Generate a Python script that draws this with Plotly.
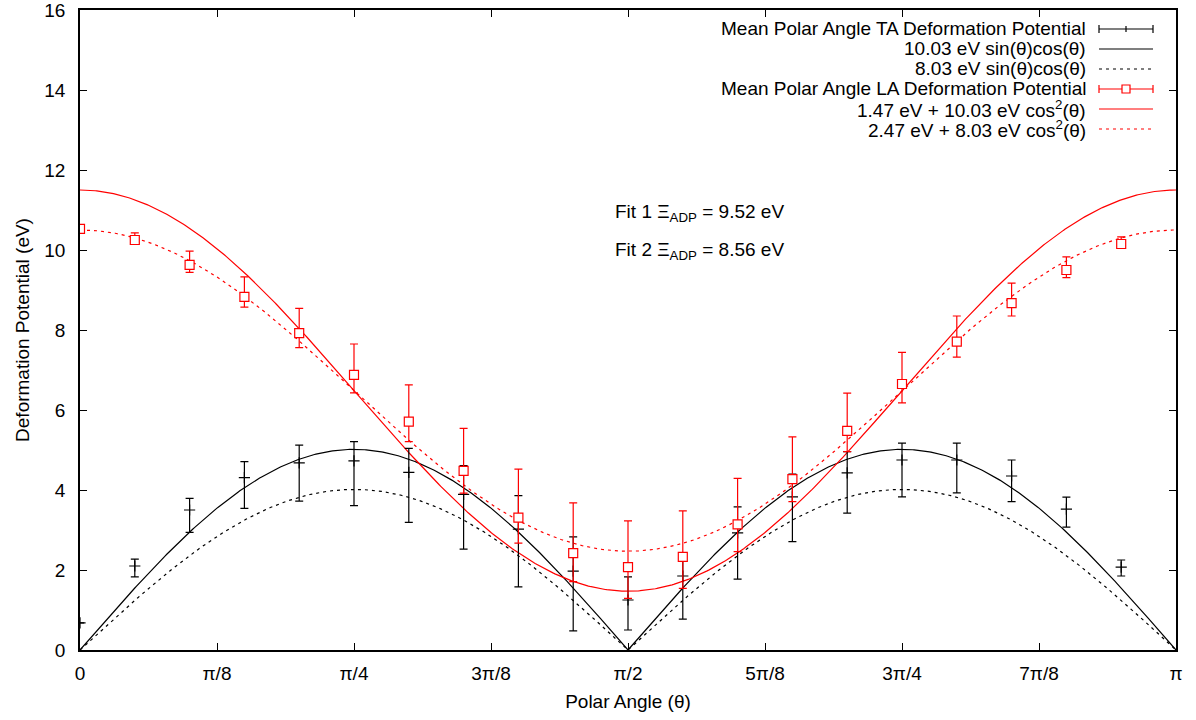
import numpy as np
import plotly.graph_objects as go

# ---------------- data ----------------
theta_deg = [0, 9, 18, 27, 36, 45, 54, 63, 72, 81, 90, 99, 108, 117, 126, 135, 144, 153, 162, 171]

ta_mean = [0.68, 2.10, 3.50, 4.31, 4.68, 4.73, 4.44, 3.89, 3.02, 1.97, 1.25, 1.85, 2.93, 3.83, 4.43, 4.75, 4.75, 4.35, 3.52, 2.07]
ta_high = [0.68, 2.27, 3.79, 4.71, 5.12, 5.21, 5.04, 4.61, 3.86, 2.83, 1.83, 2.43, 3.58, 4.40, 4.96, 5.17, 5.17, 4.75, 3.82, 2.25]
ta_low = [0.68, 1.83, 2.94, 3.54, 3.72, 3.61, 3.19, 2.52, 1.58, 0.48, 0.50, 0.77, 1.77, 2.71, 3.42, 3.83, 3.93, 3.71, 3.07, 1.85]

la_mean = [10.53, 10.25, 9.63, 8.83, 7.92, 6.88, 5.71, 4.48, 3.31, 2.42, 2.07, 2.33, 3.14, 4.27, 5.48, 6.65, 7.71, 8.67, 9.50, 10.15]
la_high = [10.53, 10.43, 9.97, 9.33, 8.54, 7.65, 6.63, 5.54, 4.52, 3.68, 3.23, 3.48, 4.29, 5.33, 6.42, 7.44, 8.35, 9.17, 9.83, 10.33]
la_low = [10.53, 10.15, 9.44, 8.57, 7.56, 6.43, 5.21, 3.92, 2.67, 1.71, 1.29, 1.54, 2.46, 3.71, 4.96, 6.18, 7.32, 8.35, 9.31, 10.07]

# fit parameters (from legend)
ta_fit1_amp = 10.03
ta_fit2_amp = 8.03
la_fit1_off, la_fit1_amp = 1.47, 10.03
la_fit2_off, la_fit2_amp = 2.47, 8.03

x_tick_vals_frac = [0, 1/8, 2/8, 3/8, 4/8, 5/8, 6/8, 7/8, 1]
x_tick_text = ["0", "π/8", "π/4", "3π/8", "π/2", "5π/8", "3π/4", "7π/8", "π"]
y_tick_vals = [0, 2, 4, 6, 8, 10, 12, 14, 16]

legend_labels = [
    "Mean Polar Angle TA Deformation Potential",
    "10.03 eV sin(θ)cos(θ)",
    "8.03 eV sin(θ)cos(θ)",
    "Mean Polar Angle LA Deformation Potential",
    "1.47 eV + 10.03 eV cos<sup>2</sup>(θ)",
    "2.47 eV + 8.03 eV cos<sup>2</sup>(θ)",
]
fit_texts = ["Fit 1 Ξ<sub>ADP</sub> = 9.52 eV", "Fit 2 Ξ<sub>ADP</sub> = 8.56 eV"]

# ---------------- figure ----------------
FONT = "Liberation Sans, Arial, Helvetica, sans-serif"
FS = 19
W, H = 1196, 720
ML, MR, MT, MB = 80, 20, 10, 70
PW, PH = W - ML - MR, H - MT - MB

th = np.radians(theta_deg)
tt = np.linspace(0, np.pi, 721)

ta_mean_a = np.array(ta_mean)
la_mean_a = np.array(la_mean)

fig = go.Figure()

# fit curves
fig.add_trace(go.Scatter(x=tt, y=ta_fit1_amp * np.abs(np.sin(tt) * np.cos(tt)), mode="lines",
                         line=dict(color="black", width=1.2), showlegend=False, hoverinfo="skip"))
fig.add_trace(go.Scatter(x=tt, y=ta_fit2_amp * np.abs(np.sin(tt) * np.cos(tt)), mode="lines",
                         line=dict(color="black", width=1.2, dash="3px,4px"), showlegend=False, hoverinfo="skip"))
fig.add_trace(go.Scatter(x=tt, y=la_fit1_off + la_fit1_amp * np.cos(tt) ** 2, mode="lines",
                         line=dict(color="red", width=1.2), showlegend=False, hoverinfo="skip"))
fig.add_trace(go.Scatter(x=tt, y=la_fit2_off + la_fit2_amp * np.cos(tt) ** 2, mode="lines",
                         line=dict(color="red", width=1.2, dash="3px,4px"), showlegend=False, hoverinfo="skip"))

# data with asymmetric error bars
fig.add_trace(go.Scatter(
    x=th, y=ta_mean, mode="markers",
    marker=dict(symbol="cross-thin", size=8, line=dict(color="black", width=1.2), color="black"),
    error_y=dict(type="data", symmetric=False,
                 array=list(np.array(ta_high) - ta_mean_a),
                 arrayminus=list(ta_mean_a - np.array(ta_low)),
                 color="black", thickness=1.2, width=4),
    showlegend=False))
fig.add_trace(go.Scatter(
    x=th, y=la_mean, mode="markers",
    marker=dict(symbol="square", size=9, color="white", line=dict(color="red", width=1.2)),
    error_y=dict(type="data", symmetric=False,
                 array=list(np.array(la_high) - la_mean_a),
                 arrayminus=list(la_mean_a - np.array(la_low)),
                 color="red", thickness=1.2, width=4),
    showlegend=False))

def px2paper(px, py):
    return (px - ML) / PW, (H - MB - py) / PH

# custom gnuplot-style legend
shapes = []
annotations = []
row_y = [29, 49, 69, 89, 109, 129]
text_right = 1088
s0, s1 = 1099, 1153
styles = [("black", "err_plus"), ("black", "solid"), ("black", "dot"),
          ("red", "err_square"), ("red", "solid"), ("red", "dot")]
for lab, yy, (col, kind) in zip(legend_labels, row_y, styles):
    ax, ay = px2paper(text_right, yy)
    annotations.append(dict(x=ax, y=ay, xref="paper", yref="paper", text=lab, showarrow=False,
                            xanchor="right", yanchor="middle", font=dict(family=FONT, size=FS, color="black")))
    x0, y0 = px2paper(s0, yy)
    x1, _ = px2paper(s1, yy)
    dash = "solid" if kind != "dot" else "3px,4px"
    shapes.append(dict(type="line", xref="paper", yref="paper", x0=x0, x1=x1, y0=y0, y1=y0,
                       line=dict(color=col, width=1.2, dash=dash)))
    if kind.startswith("err"):
        for sx in (s0, s1):
            cx, cy0 = px2paper(sx, yy - 4)
            _, cy1 = px2paper(sx, yy + 4)
            shapes.append(dict(type="line", xref="paper", yref="paper", x0=cx, x1=cx, y0=cy0, y1=cy1,
                               line=dict(color=col, width=1.2)))
        mx = (s0 + s1) / 2
        if kind == "err_plus":
            cx, cy0 = px2paper(mx, yy - 3)
            _, cy1 = px2paper(mx, yy + 3)
            shapes.append(dict(type="line", xref="paper", yref="paper", x0=cx, x1=cx, y0=cy0, y1=cy1,
                               line=dict(color=col, width=1.2)))
        else:
            rx0, ry0 = px2paper(mx - 4, yy + 4)
            rx1, ry1 = px2paper(mx + 4, yy - 4)
            shapes.append(dict(type="rect", xref="paper", yref="paper", x0=rx0, x1=rx1, y0=ry0, y1=ry1,
                               line=dict(color=col, width=1.2), fillcolor="white"))

for txt, yy in zip(fit_texts, [213, 251]):
    ax, ay = px2paper(613, yy)
    annotations.append(dict(x=ax, y=ay, xref="paper", yref="paper", text=txt, showarrow=False,
                            xanchor="left", yanchor="middle", font=dict(family=FONT, size=FS, color="black")))

fig.update_layout(
    width=W, height=H,
    margin=dict(l=ML, r=MR, t=MT, b=MB, autoexpand=False),
    paper_bgcolor="white", plot_bgcolor="white",
    font=dict(family=FONT, size=FS, color="black"),
    shapes=shapes, annotations=annotations,
    showlegend=False,
)
fig.update_xaxes(
    range=[0, np.pi], tickvals=[f * np.pi for f in x_tick_vals_frac], ticktext=x_tick_text,
    ticks="inside", ticklen=7, tickwidth=1.2, tickcolor="black",
    showline=True, linecolor="black", linewidth=1.6, mirror="allticks",
    showgrid=False, zeroline=False, ticklabelstandoff=5, automargin=False,
    ticklabeloverflow="allow",
    title=dict(text="Polar Angle (θ)", font=dict(family=FONT, size=FS), standoff=12),
)
fig.update_yaxes(
    range=[0, 16], tickvals=y_tick_vals,
    ticks="inside", ticklen=7, tickwidth=1.2, tickcolor="black",
    showline=True, linecolor="black", linewidth=1.6, mirror="allticks",
    showgrid=False, zeroline=False, ticklabelstandoff=9, automargin=False,
    ticklabeloverflow="allow",
    title=dict(text="Deformation Potential (eV)", font=dict(family=FONT, size=FS), standoff=10),
)

fig.write_html("out.html")
